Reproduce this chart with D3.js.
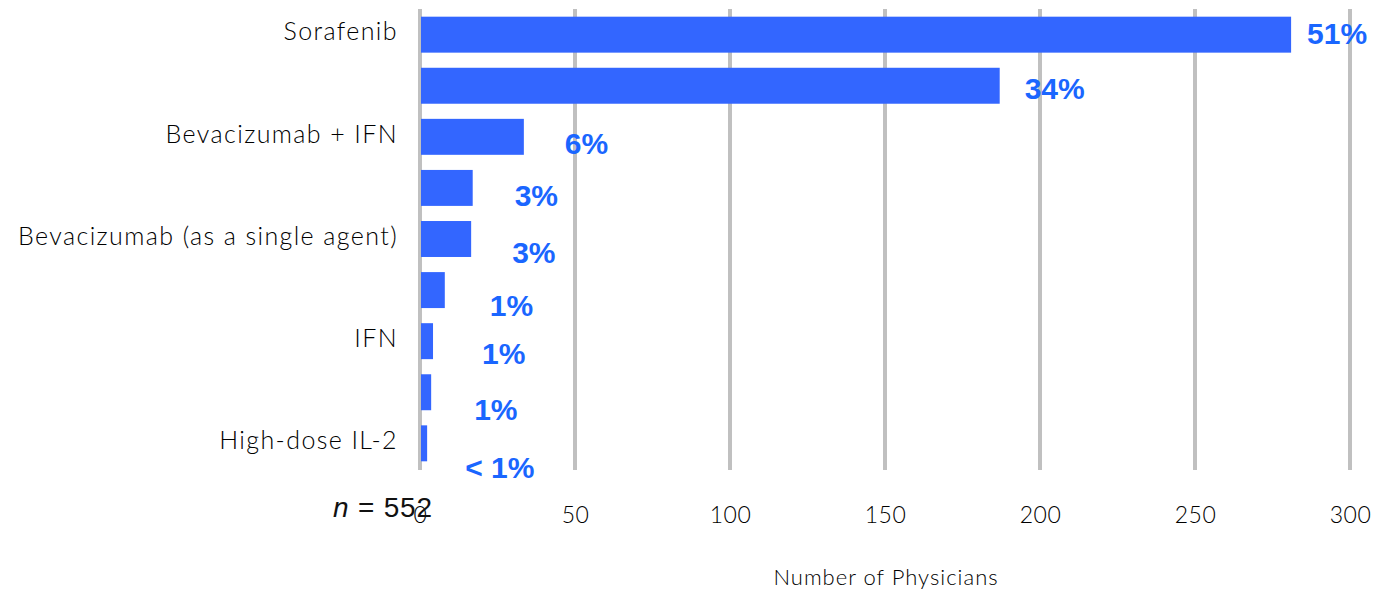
<!DOCTYPE html>
<html>
<head>
<meta charset="utf-8">
<script src="https://cdn.jsdelivr.net/npm/d3@7"></script>
<style>
	body { margin: 0; background: #fff; }
	.cat { font-family: Lato, "DejaVu Sans", sans-serif; font-weight: 300; font-size: 25px; fill: #000; letter-spacing: 1.4px; }
	.tick text { font-family: Lato, "DejaVu Sans", sans-serif; font-weight: 300; font-size: 23px; fill: #000; letter-spacing: 0.5px; }
	.pct { font-family: "Liberation Sans", Arial, sans-serif; font-weight: bold; font-size: 30px; fill: #1a66ff; }
</style>
</head>
<body>
<div id="chart"></div>
<script>
// labels only printed on every other row in the original
var categories = ["Sorafenib", "", "Bevacizumab + IFN", "", "Bevacizumab (as a single agent)", "", "IFN", "", "High-dose IL-2"];
var physicians = [281, 187, 33.5, 17, 16.5, 8, 4.2, 3.6, 2.3];
var percentLabels = ["51%", "34%", "6%", "3%", "3%", "1%", "1%", "1%", "< 1%"];
var xTicks = [0, 50, 100, 150, 200, 250, 300];
var sampleSize = 552;

// hand nudges for the percent labels (they drift in the source)
var labelDx = [16, 25, 41, 42, 41, 45, 49, 43, 38];
var labelDy = [-1, 2, 6, 7, 13, 15, 12, 17, 24];

var W = 1385, H = 590;
var margin = {top: 8, right: 35, bottom: 120, left: 420};

var svg = d3.select("#chart").append("svg")
	.attr("width", W)
	.attr("height", H);

var x = d3.scaleLinear().domain([0, 300]).range([margin.left, W - margin.right]);
var y = d3.scaleBand().domain(d3.range(categories.length))
	.range([margin.top, H - margin.bottom])
	.paddingInner(0.296)
	.paddingOuter(0.17);

// vertical grid
svg.append("g")
	.selectAll("line")
	.data(xTicks)
	.enter().append("line")
		.attr("x1", function(d) { return x(d); })
		.attr("x2", function(d) { return x(d); })
		.attr("y1", 9)
		.attr("y2", 470)
		.attr("stroke", "#c0c0c0")
		.attr("stroke-width", 4);

svg.append("g")
	.selectAll("rect")
	.data(physicians)
	.enter().append("rect")
		.attr("x", x(0) + 1)
		.attr("y", function(d, i) { return y(i); })
		.attr("width", function(d) { return x(d) - x(0) - 1; })
		.attr("height", y.bandwidth())
		.attr("fill", "#3366ff");

svg.append("g")
	.selectAll("text")
	.data(categories)
	.enter().append("text")
		.attr("class", "cat")
		.attr("x", x(0) - 22)
		.attr("y", function(d, i) { return y(i) + y.bandwidth() / 2 - 3; })
		.attr("dy", "0.35em")
		.attr("text-anchor", "end")
		.text(function(d) { return d; });

svg.append("g")
	.selectAll("text")
	.data(percentLabels)
	.enter().append("text")
		.attr("class", "pct")
		.attr("x", function(d, i) { return x(physicians[i]) + labelDx[i]; })
		.attr("y", function(d, i) { return y(i) + y.bandwidth() / 2 + labelDy[i]; })
		.attr("dy", "0.36em")
		.text(function(d) { return d; });

var axis = svg.append("g")
	.attr("transform", "translate(0,501)")
	.call(d3.axisBottom(x).tickValues(xTicks).tickSize(0).tickPadding(6));
axis.select(".domain").remove();

svg.append("text")
	.attr("x", 886)
	.attr("y", 585)
	.attr("text-anchor", "middle")
	.style("font-family", "Lato, 'DejaVu Sans', sans-serif")
	.style("font-weight", 300)
	.style("font-size", "22px")
	.style("letter-spacing", "1px")
	.style("fill", "#000")
	.text("Number of Physicians");

var n = svg.append("text")
	.attr("x", 333)
	.attr("y", 517)
	.style("font-family", "'Liberation Sans', Arial, sans-serif")
	.style("font-size", "28px")
	.style("letter-spacing", "0.8px")
	.style("fill", "#111");
n.append("tspan").style("font-style", "italic").text("n");
n.append("tspan").text(" = " + sampleSize);
</script>
</body>
</html>
